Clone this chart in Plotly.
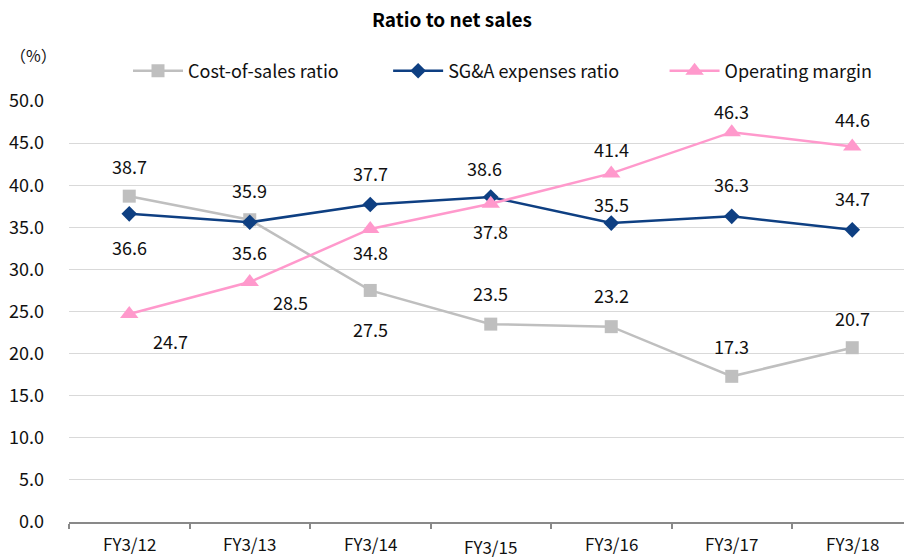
import plotly.graph_objects as go

categories = ["FY3/12", "FY3/13", "FY3/14", "FY3/15", "FY3/16", "FY3/17", "FY3/18"]
cost_of_sales = [38.7, 35.9, 27.5, 23.5, 23.2, 17.3, 20.7]
sga_ratio = [36.6, 35.6, 37.7, 38.6, 35.5, 36.3, 34.7]
operating_margin = [24.7, 28.5, 34.8, 37.8, 41.4, 46.3, 44.6]
y_ticks = [0, 5, 10, 15, 20, 25, 30, 35, 40, 45, 50]
series_names = ["Cost-of-sales ratio", "SG&A expenses ratio", "Operating margin"]

# label placement (pixel shifts) per point
cost_shift = [(0, 30), (0, 30), (0, -39), (0, 31), (0, 32), (0, 30), (0, 30)]
sga_shift = [(0, -33), (0, -30), (0, 32), (-6, 29), (0, 19), (0, 32), (0, 32)]
op_shift = [(41, -27), (41, -20), (0, -23), (0, -27), (0, 24), (0, 21), (0, 27)]
xlabel_shift = [0, 0, 0, -3, 0, 0, 0]
legend_pad = [11, 10, 0]  # trailing non-breaking spaces for legend spacing

FONT = "Noto Sans CJK JP"
xs = list(range(len(categories)))

plot_top, plot_bottom, left, plot_w = 101, 522, 69, 835
ph = plot_bottom - plot_top

names = [n + "\u00a0" * p for n, p in zip(series_names, legend_pad)]

fig = go.Figure()
fig.add_trace(go.Scatter(
    x=xs, y=cost_of_sales, name=names[0], mode="lines+markers",
    line=dict(color="#bfbfbf", width=2.5),
    marker=dict(symbol="square", size=13, color="#bfbfbf")))
fig.add_trace(go.Scatter(
    x=xs, y=sga_ratio, name=names[1], mode="lines+markers",
    line=dict(color="#0e3f82", width=2.5),
    marker=dict(symbol="diamond", size=12, color="#0e3f82")))
fig.add_trace(go.Scatter(
    x=xs, y=operating_margin, name=names[2], mode="lines+markers",
    line=dict(color="#ff99cc", width=2.5),
    marker=dict(symbol="triangle-up", size=16, color="#ff99cc")))

annotations = []
for series, shifts in ((cost_of_sales, cost_shift), (sga_ratio, sga_shift), (operating_margin, op_shift)):
    for i, v in enumerate(series):
        annotations.append(dict(
            x=xs[i], y=v, xref="x", yref="y", text=f"{v:.1f}", showarrow=False,
            xshift=shifts[i][0], yshift=shifts[i][1],
            font=dict(family=FONT, size=18, color="#111111")))
for i, c in enumerate(categories):
    annotations.append(dict(
        x=xs[i], y=0, xref="x", yref="paper", text=c, showarrow=False,
        yanchor="top", yshift=-7 + xlabel_shift[i],
        font=dict(family=FONT, size=17, color="#111111")))
annotations.append(dict(
    x=(8 - left) / plot_w, y=1 + (plot_top - 55) / ph, xref="paper", yref="paper",
    xanchor="left", yanchor="middle", text="（%）", showarrow=False,
    font=dict(family=FONT, size=16, color="#111111")))
annotations.append(dict(
    x=(452 - left) / plot_w, y=1 + (plot_top - 18) / ph, xref="paper", yref="paper",
    text="<b>Ratio to net sales</b>", showarrow=False, xanchor="center", yanchor="middle",
    font=dict(family=FONT, size=19, color="#000000")))

fig.update_layout(
    width=904, height=558,
    margin=dict(l=left, r=0, t=plot_top, b=558 - plot_bottom, autoexpand=False),
    paper_bgcolor="white", plot_bgcolor="white",
    font=dict(family=FONT, size=18, color="#111111"),
    showlegend=True,
    legend=dict(orientation="h", x=(128 - left) / plot_w, y=1 + (plot_top - 71) / ph,
                xanchor="left", yanchor="middle",
                font=dict(family=FONT, size=18, color="#111111"),
                itemwidth=50, tracegroupgap=0, bgcolor="rgba(0,0,0,0)"),
    annotations=annotations,
    xaxis=dict(range=[-0.5, -0.5 + plot_w / 120.5], tickvals=[x - 0.5 for x in xs] + [6.5],
               ticktext=[""] * 8, ticks="outside", ticklen=5, tickwidth=2,
               tickcolor="#898989", showline=True, linecolor="#898989", linewidth=2,
               showgrid=False, zeroline=False, fixedrange=True),
    yaxis=dict(range=[0, 50], tickvals=y_ticks, ticktext=[f"{v:.1f}" for v in y_ticks],
               showgrid=True, gridcolor="#d9d9d9", gridwidth=1, zeroline=False,
               showline=False, ticks="", ticklabelstandoff=24,
               tickfont=dict(family=FONT, size=18, color="#111111")),
)

fig.write_html("out.html", config={"displayModeBar": False},
               post_script="document.body.style.margin='0';")
